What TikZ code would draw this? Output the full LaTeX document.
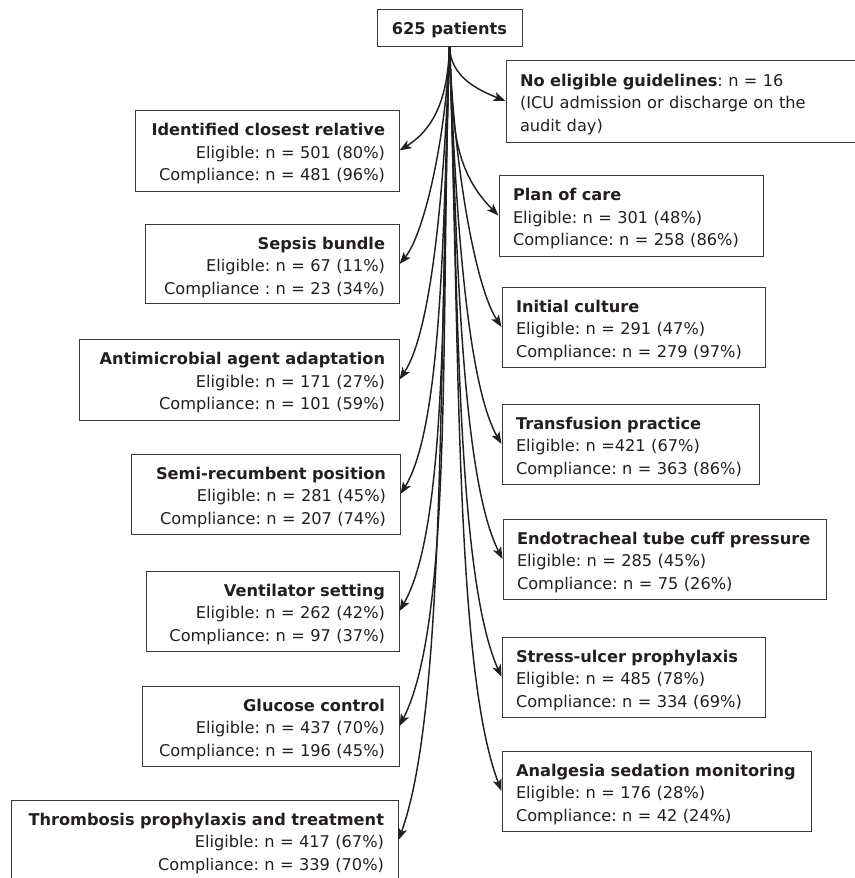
\documentclass[tikz,border=0pt]{standalone}
\usepackage{fontspec}
\setmainfont{DejaVu Sans}
\usetikzlibrary{arrows.meta}
\definecolor{txt}{HTML}{231F20}
\definecolor{bord}{HTML}{3A3A3A}
\newcommand\myTopStrut{\rule{0pt}{19pt}}
\frenchspacing
\begin{document}
\frenchspacing
\begin{tikzpicture}[x=1pt,y=1pt,
  font=\fontsize{16.2}{22.4}\selectfont\frenchspacing,
  bx/.style={draw=bord, line width=1pt, inner xsep=14pt, inner ysep=0pt, text=txt},
  lb/.style={bx, align=right},
  rb/.style={bx, align=left},
  con/.style={draw=txt, line width=1.45pt, -{Stealth[length=12pt,width=9pt,inset=3pt]}},
  lc/.style={out=-92, in=#1, in looseness=0.45},
  rc/.style={out=-88, in=#1, in looseness=0.45}]
\useasboundingbox (0,0) rectangle (854,-878);

% top
\node[bx, inner xsep=0pt, minimum width=145pt, minimum height=37pt, text height=14pt, text depth=0.5pt] (top) at (449.5,-27.5) {\bfseries 625 patients};

% left column
\node[lb, minimum width=264pt, minimum height=81pt, text width=236pt] (ident) at (267,-150.5)
  {\myTopStrut\textbf{Identified closest relative}\\Eligible: n = 501 (80\%)\\Compliance: n = 481 (96\%)};
\node[lb, minimum width=254pt, minimum height=79pt, text width=226pt] (sepsis) at (272,-264)
  {\myTopStrut\textbf{Sepsis bundle}\\Eligible: n = 67 (11\%)\\Compliance : n = 23 (34\%)};
\node[lb, minimum width=320pt, minimum height=81pt, text width=292pt] (antim) at (239,-379.5)
  {\myTopStrut\textbf{Antimicrobial agent adaptation}\hspace*{5.6pt}\\Eligible: n = 171 (27\%)\\Compliance: n = 101 (59\%)};
\node[lb, minimum width=269pt, minimum height=80pt, text width=241pt] (semi) at (265.5,-494)
  {\myTopStrut\textbf{Semi-recumbent position}\\Eligible: n = 281 (45\%)\\Compliance: n = 207 (74\%)};
\node[lb, minimum width=253pt, minimum height=80pt, text width=225pt] (vent) at (272.5,-611)
  {\myTopStrut\textbf{Ventilator setting}\\Eligible: n = 262 (42\%)\\Compliance: n = 97 (37\%)};
\node[lb, minimum width=257pt, minimum height=80pt, text width=229pt] (gluc) at (270.5,-726)
  {\myTopStrut\textbf{Glucose control}\\Eligible: n = 437 (70\%)\\Compliance: n = 196 (45\%)};
\node[lb, minimum width=387pt, minimum height=80pt, text width=359pt] (thromb) at (204.5,-840)
  {\myTopStrut\textbf{Thrombosis prophylaxis and treatment}\\Eligible: n = 417 (67\%)\\Compliance: n = 339 (70\%)};

% right column
\node[rb, minimum width=354pt, minimum height=82pt, text width=326pt] (noelig) at (683,-101)
  {\myTopStrut\textbf{No eligible guidelines}: n = 16\\(ICU admission or discharge on the\\audit day)};
\node[rb, minimum width=264pt, minimum height=81pt, text width=236pt] (plan) at (631,-215.5)
  {\myTopStrut\textbf{Plan of care}\\Eligible: n = 301 (48\%)\\Compliance: n = 258 (86\%)};
\node[rb, minimum width=263pt, minimum height=80pt, text width=235pt] (init) at (633.5,-327)
  {\myTopStrut\textbf{Initial culture}\\Eligible: n = 291 (47\%)\\Compliance: n = 279 (97\%)};
\node[rb, minimum width=257pt, minimum height=80pt, text width=229pt] (transf) at (630.5,-444)
  {\myTopStrut\textbf{Transfusion practice}\\Eligible: n =421 (67\%)\\Compliance: n = 363 (86\%)};
\node[rb, minimum width=323pt, minimum height=80pt, text width=295pt] (endo) at (664.5,-559)
  {\myTopStrut\textbf{Endotracheal tube cuff pressure}\\Eligible: n = 285 (45\%)\\Compliance: n = 75 (26\%)};
\node[rb, minimum width=263pt, minimum height=80pt, text width=235pt] (stress) at (633.5,-677)
  {\myTopStrut\textbf{Stress-ulcer prophylaxis}\\Eligible: n = 485 (78\%)\\Compliance: n = 334 (69\%)};
\node[rb, minimum width=309pt, minimum height=80pt, text width=281pt] (analg) at (656.5,-791)
  {\myTopStrut\textbf{Analgesia sedation monitoring}\\Eligible: n = 176 (28\%)\\Compliance: n = 42 (24\%)};

% connectors
\draw[con] (top.south) to[out=-88, in=158] (noelig.west);
\draw[con] (top.south) to[out=-92, in=32] (ident.east);
\draw[con] (top.south) to[out=-87, in=135] (plan.west);
\draw[con] (top.south) to[lc=50] (sepsis.east);
\draw[con] (top.south) to[lc=56] (antim.east);
\draw[con] (top.south) to[lc=58] (semi.east);
\draw[con] (top.south) to[lc=60] (vent.east);
\draw[con] (top.south) to[lc=63] (gluc.east);
\draw[con] (top.south) to[lc=70] (thromb.east);
\draw[con] (top.south) to[rc=123] (init.west);
\draw[con] (top.south) to[rc=120] (transf.west);
\draw[con] (top.south) to[rc=117] (endo.west);
\draw[con] (top.south) to[rc=114] (stress.west);
\draw[con] (top.south) to[rc=111] (analg.west);
\end{tikzpicture}
\end{document}
